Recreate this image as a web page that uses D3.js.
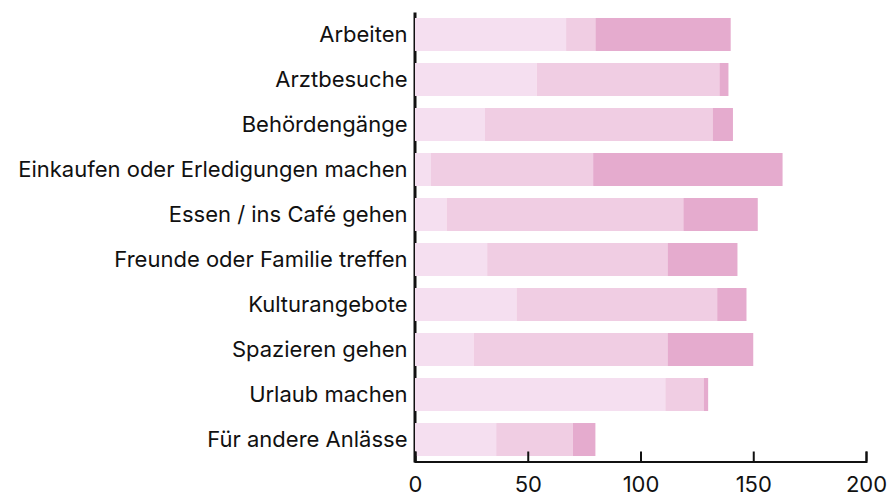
<!DOCTYPE html>
<html>
<head>
<meta charset="utf-8">
<script src="https://cdn.jsdelivr.net/npm/d3@7"></script>
<style>
    body { margin: 0; background: #fff; }
    svg text { font-family: Inter, "Noto Sans", sans-serif; fill: #111; }
    .axis path, .axis line { stroke: #111; }
</style>
</head>
<body>
<svg id="chart" width="893" height="499"></svg>
<script>
let categories = [
    'Arbeiten',
    'Arztbesuche',
    'Behördengänge',
    'Einkaufen oder Erledigungen machen',
    'Essen / ins Café gehen',
    'Freunde oder Familie treffen',
    'Kulturangebote',
    'Spazieren gehen',
    'Urlaub machen',
    'Für andere Anlässe'
];
let series1 = [67, 54, 31, 7, 14, 32, 45, 26, 111, 36];
let series2 = [13, 81, 101, 72, 105, 80, 89, 86, 17, 34];
let series3 = [60, 4, 9, 84, 33, 31, 13, 38, 2, 10];
let xTicks = [0, 50, 100, 150, 200];
let colors = ['#f5dff0', '#f0cde3', '#e5abce'];

var config = {
    left: 415,
    right: 866,
    top: 12,
    bottom: 462
}

let rows = categories.map(function(c, i){
    return { cat: c, s1: series1[i], s2: series2[i], s3: series3[i] }
});

let stack = d3.stack().keys(['s1', 's2', 's3'])(rows);

let x = d3.scaleLinear()
    .domain([0, 200])
    .range([config.left, config.right]);

let y = d3.scaleBand()
    .domain(categories)
    .range([config.top, config.bottom])
    .paddingInner(0.267)
    .paddingOuter(0.133);

let svg = d3.select('#chart');

// y axis first so bars sit over half of its line
let yAxis = svg.append('g')
    .attr('class', 'axis')
    .attr('transform', 'translate(' + (config.left - 0.5) + ',0)')
    .call(d3.axisLeft(y).tickSize(0).tickPadding(7));
yAxis.select('.domain').attr('stroke-width', 3);
yAxis.selectAll('text')
    .attr('font-size', 22)
    .attr('dy', '0.34em');

svg.append('g')
    .selectAll('g')
    .data(stack)
    .join('g')
    .attr('fill', function(d, i){ return colors[i] })
    .selectAll('rect')
    .data(function(d){ return d })
    .join('rect')
    .attr('x', function(d){ return x(d[0]) })
    .attr('y', function(d){ return y(d.data.cat) })
    .attr('width', function(d){ return x(d[1]) - x(d[0]) })
    .attr('height', y.bandwidth());

let xAxis = svg.append('g')
    .attr('class', 'axis')
    .attr('transform', 'translate(0,' + (config.bottom - 0.5) + ')')
    .call(d3.axisBottom(x).tickValues(xTicks).tickSize(-10).tickSizeOuter(-10).tickPadding(15));
xAxis.select('.domain').attr('stroke-width', 2);
xAxis.selectAll('.tick line').attr('stroke-width', 2);
xAxis.selectAll('text')
    .attr('font-size', 22)
    .attr('dy', '0.71em');
</script>
</body>
</html>
